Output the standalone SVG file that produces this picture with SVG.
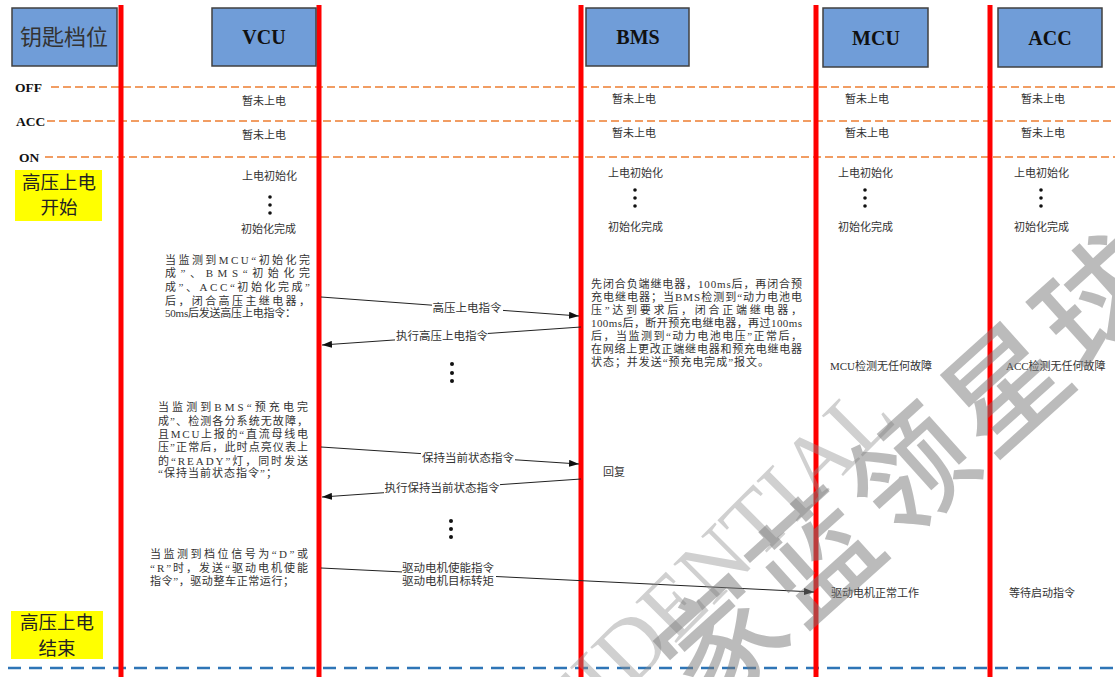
<svg xmlns="http://www.w3.org/2000/svg" width="1115" height="677" viewBox="0 0 1115 677">
<style>
.hdr{fill:#709dd8;stroke:#404040;stroke-width:1.5}
.hdrt{font-family:"Liberation Serif","Noto Sans CJK SC",serif;font-weight:bold;font-size:20px;fill:#111;text-anchor:middle}
.life{stroke:#ff0000;stroke-width:5}
.lvl{stroke:#ed7d31;stroke-width:1.6;stroke-dasharray:8 4;fill:none}
.lvlt{font-family:"Liberation Serif",serif;font-weight:bold;font-size:13.5px;fill:#111}
.yel{fill:#ffff00}
.yt{font-family:"Noto Sans CJK SC",sans-serif;font-size:18.5px;fill:#222;text-anchor:middle}
.s{font-family:"Liberation Serif","Noto Sans CJK SC",serif;font-size:11px;fill:#333}
.p{font-family:"Liberation Serif","Noto Sans CJK SC",serif;font-size:11px;fill:#333}
.lbl{font-family:"Liberation Serif","Noto Sans CJK SC",serif;font-size:11.5px;fill:#333;text-anchor:middle}
.msg{stroke:#222;stroke-width:1;fill:none;marker-end:url(#ah)}
.bg{fill:#fff}
.dot{fill:#111}
</style>
<defs>
<marker id="ah" markerWidth="10" markerHeight="7" refX="10" refY="3.5" orient="auto" markerUnits="userSpaceOnUse">
<path d="M0,0 L10,3.5 L0,7 z" fill="#111"/>
</marker>
</defs>
<rect width="1115" height="677" fill="#fff"/>

<g id="levels">
<line class="lvl" x1="51" y1="87" x2="1115" y2="87"/>
<line class="lvl" x1="47" y1="121" x2="1115" y2="121"/>
<line class="lvl" x1="45" y1="157" x2="1115" y2="157"/>
<text class="lvlt" x="15" y="92">OFF</text>
<text class="lvlt" x="16" y="126">ACC</text>
<text class="lvlt" x="19" y="162">ON</text>
<line x1="8" y1="668" x2="1115" y2="668" stroke="#2e75b6" stroke-width="2.5" stroke-dasharray="13 8"/>
</g>

<g id="lifelines">
<line class="life" x1="121" y1="5" x2="121" y2="677"/>
<line class="life" x1="319" y1="5" x2="319" y2="677"/>
<line class="life" x1="581" y1="5" x2="581" y2="677"/>
<line class="life" x1="816" y1="5" x2="816" y2="677"/>
<line class="life" x1="990" y1="5" x2="990" y2="677"/>
</g>

<g id="node-key">
<rect class="hdr" x="12" y="8" width="105" height="58"/>
<text x="64" y="45" font-family="Noto Sans CJK SC, sans-serif" font-size="22" fill="#333" text-anchor="middle">钥匙档位</text>
</g>
<g id="node-vcu">
<rect class="hdr" x="212" y="8" width="104" height="58"/>
<text class="hdrt" x="264" y="44">VCU</text>
</g>
<g id="node-bms">
<rect class="hdr" x="586" y="8" width="103" height="58"/>
<text class="hdrt" x="638" y="44">BMS</text>
</g>
<g id="node-mcu">
<rect class="hdr" x="823" y="8" width="105" height="59"/>
<text class="hdrt" x="876" y="45">MCU</text>
</g>
<g id="node-acc">
<rect class="hdr" x="998" y="8" width="104" height="59"/>
<text class="hdrt" x="1050" y="45">ACC</text>
</g>

<g id="node-hv-start">
<rect class="yel" x="15" y="170" width="87" height="51"/>
<text class="yt" x="59" y="189">高压上电</text>
<text class="yt" x="59" y="214">开始</text>
</g>
<g id="node-hv-end">
<rect class="yel" x="11" y="611" width="92" height="48"/>
<text class="yt" x="57" y="629">高压上电</text>
<text class="yt" x="57" y="655">结束</text>
</g>

<g id="state-vcu">
<text class="s" x="242" y="105">暂未上电</text>
<text class="s" x="242" y="139">暂未上电</text>
<text class="s" x="242" y="180">上电初始化</text>
<circle class="dot" cx="270" cy="197" r="1.8"/><circle class="dot" cx="270" cy="205" r="1.8"/><circle class="dot" cx="270" cy="213" r="1.8"/>
<text class="s" x="241" y="233">初始化完成</text>
</g>
<g id="state-bms">
<text class="s" x="612" y="103">暂未上电</text>
<text class="s" x="612" y="137">暂未上电</text>
<text class="s" x="608" y="177">上电初始化</text>
<circle class="dot" cx="635" cy="190" r="1.8"/><circle class="dot" cx="635" cy="198" r="1.8"/><circle class="dot" cx="635" cy="206" r="1.8"/>
<text class="s" x="608" y="231">初始化完成</text>
</g>
<g id="state-mcu">
<text class="s" x="845" y="103">暂未上电</text>
<text class="s" x="845" y="137">暂未上电</text>
<text class="s" x="838" y="177">上电初始化</text>
<circle class="dot" cx="865" cy="190" r="1.8"/><circle class="dot" cx="865" cy="198" r="1.8"/><circle class="dot" cx="865" cy="206" r="1.8"/>
<text class="s" x="838" y="231">初始化完成</text>
</g>
<g id="state-acc">
<text class="s" x="1021" y="103">暂未上电</text>
<text class="s" x="1021" y="137">暂未上电</text>
<text class="s" x="1014" y="177">上电初始化</text>
<circle class="dot" cx="1041" cy="190" r="1.8"/><circle class="dot" cx="1041" cy="198" r="1.8"/><circle class="dot" cx="1041" cy="206" r="1.8"/>
<text class="s" x="1014" y="231">初始化完成</text>
</g>

<g id="vcu-step1">
<text class="p" x="165" y="264" textLength="145" lengthAdjust="spacing">当监测到MCU“初始化完</text>
<text class="p" x="165" y="277" textLength="145" lengthAdjust="spacing">成”、BMS“初始化完</text>
<text class="p" x="165" y="291" textLength="145" lengthAdjust="spacing">成”、ACC“初始化完成”</text>
<text class="p" x="165" y="305" textLength="145" lengthAdjust="spacing">后，闭合高压主继电器，</text>
<text class="p" x="165" y="317" textLength="131" lengthAdjust="spacing">50ms后发送高压上电指令：</text>
</g>
<g id="bms-step">
<text class="p" x="591" y="288" textLength="211" lengthAdjust="spacing">先闭合负端继电器，100ms后，再闭合预</text>
<text class="p" x="591" y="301" textLength="211" lengthAdjust="spacing">充电继电器；当BMS检测到“动力电池电</text>
<text class="p" x="591" y="314" textLength="211" lengthAdjust="spacing">压”达到要求后，闭合正端继电器，</text>
<text class="p" x="591" y="327" textLength="211" lengthAdjust="spacing">100ms后，断开预充电继电器，再过100ms</text>
<text class="p" x="591" y="340" textLength="211" lengthAdjust="spacing">后，当监测到“动力电池电压”正常后，</text>
<text class="p" x="591" y="353" textLength="211" lengthAdjust="spacing">在网络上更改正端继电器和预充电继电器</text>
<text class="p" x="591" y="366" textLength="178" lengthAdjust="spacing">状态；并发送“预充电完成”报文。</text>
</g>
<g id="mcu-check"><text class="s" x="830" y="370">MCU检测无任何故障</text></g>
<g id="acc-check"><text class="s" x="1006" y="370">ACC检测无任何故障</text></g>

<g id="vcu-step2">
<text class="p" x="158" y="411" textLength="150" lengthAdjust="spacing">当监测到BMS“预充电完</text>
<text class="p" x="158" y="425" textLength="150" lengthAdjust="spacing">成”、检测各分系统无故障，</text>
<text class="p" x="158" y="438" textLength="150" lengthAdjust="spacing">且MCU上报的“直流母线电</text>
<text class="p" x="158" y="451" textLength="150" lengthAdjust="spacing">压”正常后，此时点亮仪表上</text>
<text class="p" x="158" y="465" textLength="150" lengthAdjust="spacing">的“READY”灯，同时发送</text>
<text class="p" x="158" y="477" textLength="119" lengthAdjust="spacing">“保持当前状态指令”；</text>
</g>
<g id="bms-reply"><text class="s" x="603" y="476">回复</text></g>

<g id="vcu-step3">
<text class="p" x="150" y="558" textLength="158" lengthAdjust="spacing">当监测到档位信号为“D”或</text>
<text class="p" x="150" y="572" textLength="158" lengthAdjust="spacing">“R”时，发送“驱动电机使能</text>
<text class="p" x="150" y="585" textLength="144" lengthAdjust="spacing">指令”，驱动整车正常运行；</text>
</g>
<g id="mcu-run"><text class="s" x="831" y="597">驱动电机正常工作</text></g>
<g id="acc-wait"><text class="s" x="1009" y="597">等待启动指令</text></g>

<g id="pause-dots">
<circle class="dot" cx="452" cy="364" r="2"/><circle class="dot" cx="452" cy="373" r="2"/><circle class="dot" cx="452" cy="381" r="2"/>
<circle class="dot" cx="451" cy="521" r="2"/><circle class="dot" cx="451" cy="529" r="2"/><circle class="dot" cx="451" cy="537" r="2"/>
</g>

<g id="connectors">
<line class="msg" x1="321" y1="297" x2="579" y2="316"/>
<rect class="bg" x="432" y="301" width="71" height="14"/>
<text class="lbl" x="467" y="312">高压上电指令</text>

<line class="msg" x1="581" y1="327" x2="322" y2="345"/>
<rect class="bg" x="395" y="329" width="93" height="14"/>
<text class="lbl" x="442" y="340">执行高压上电指令</text>

<line class="msg" x1="321" y1="447" x2="579" y2="464"/>
<rect class="bg" x="421" y="451" width="94" height="14"/>
<text class="lbl" x="468" y="462">保持当前状态指令</text>

<line class="msg" x1="581" y1="479" x2="322" y2="497"/>
<rect class="bg" x="384" y="481" width="116" height="14"/>
<text class="lbl" x="442" y="492">执行保持当前状态指令</text>

<line class="msg" x1="321" y1="568" x2="814" y2="592"/>
<rect class="bg" x="402" y="561" width="94" height="27"/>
<text class="lbl" x="448" y="572">驱动电机使能指令</text>
<text class="lbl" x="448" y="585">驱动电机目标转矩</text>
</g>

<g id="watermark">
<text transform="translate(442.5,876.5) rotate(-45)" x="0" y="0" font-family="Liberation Serif, serif" font-size="88" fill="#909090" opacity="0.42">CONFIDENTIAL</text>
<text transform="translate(722,642) rotate(-42)" x="-60" y="44" font-family="Noto Sans CJK SC, sans-serif" font-size="120" font-weight="500" letter-spacing="7" fill="#7a7a7a" opacity="0.5">家蓝领星球</text>
</g>
</svg>
